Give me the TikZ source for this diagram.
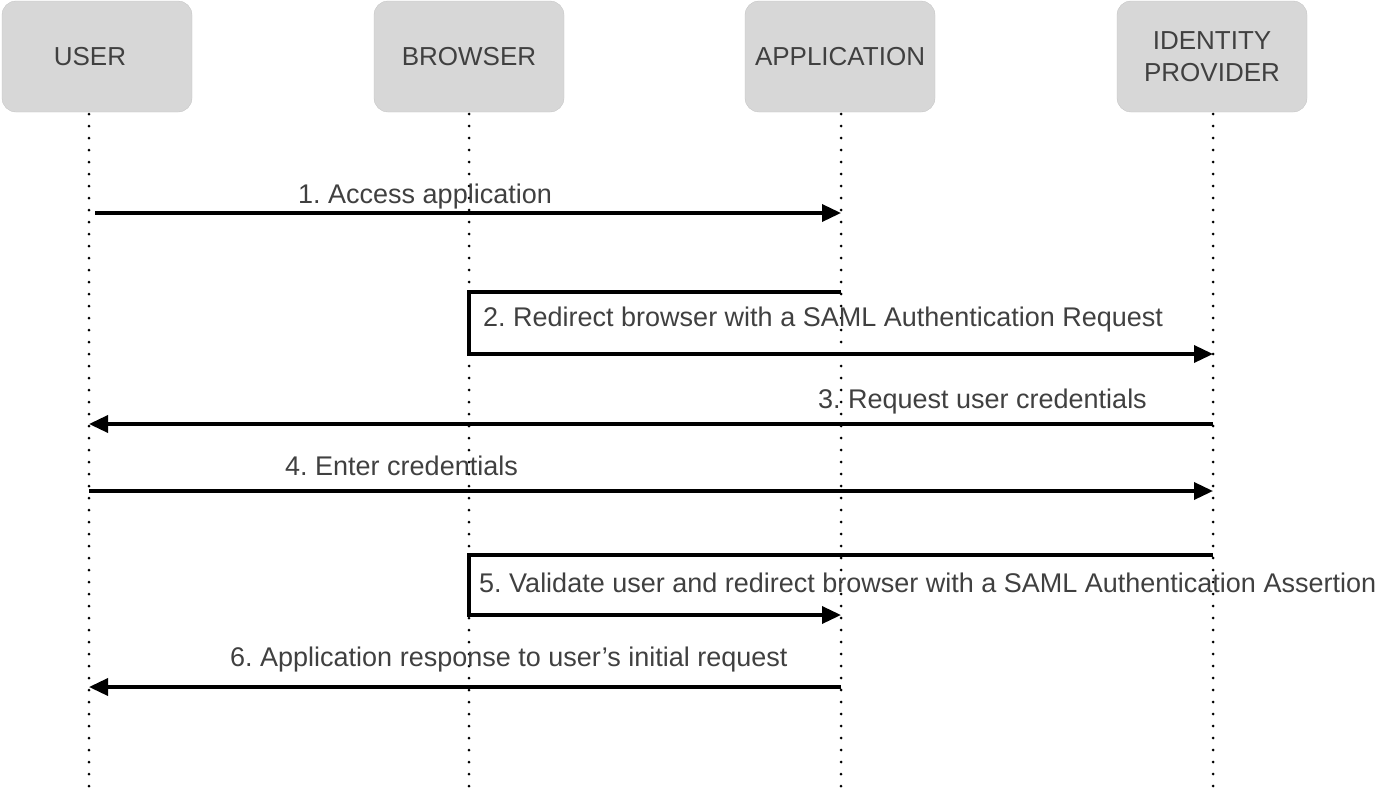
\documentclass[tikz,border=0pt]{standalone}
\usepackage{fontspec}
\setmainfont{Liberation Sans}
\usetikzlibrary{arrows.meta}
\definecolor{boxgray}{HTML}{D7D7D7}
\definecolor{txt}{HTML}{404040}
\frenchspacing
\begin{document}
\begin{tikzpicture}[x=1pt,y=-1pt,
  head/.style={fill=boxgray, draw=boxgray!90!black, line width=0.3pt, rounded corners=14pt,
    minimum height=111pt, minimum width=190pt, align=center, text=txt,
    font=\fontsize{26}{32}\selectfont},
  msg/.style={line width=3.5pt, line join=miter, -{Triangle[length=19pt,width=17pt]}},
  life/.style={line width=3pt, dash pattern=on 0pt off 12pt, line cap=round},
  lbl/.style={font=\fontsize{27}{32}\selectfont, text=txt, inner sep=0pt, anchor=base west}]
\useasboundingbox (0,0) rectangle (1400,798);
% headers
\node[head] (user) at (97,56.5) {\raisebox{-3pt}{USER}\hspace*{14pt}};
\node[head] (browser) at (469,56.5) {\raisebox{-3pt}{BROWSER}};
\node[head] (app) at (840,56.5) {\raisebox{-3pt}{APPLICATION}};
\node[head] (idp) at (1212,56.5) {IDENTITY\\PROVIDER};
% lifelines
\coordinate (uT) at (89,114);  \coordinate (uB) at (89,790);
\coordinate (bT) at (469,114); \coordinate (bB) at (469,790);
\coordinate (aT) at (841,114); \coordinate (aB) at (841,790);
\coordinate (iT) at (1213,114); \coordinate (iB) at (1213,790);
\draw[life] (uT) -- (uB);
\draw[life] (bT) -- (bB);
\draw[life] (aT) -- (aB);
\draw[life] (iT) -- (iB);
% message points
\coordinate (m1s) at (95,213);  \coordinate (m1e) at (841,213);
\coordinate (m2s) at (841,292); \coordinate (m2c) at (469,354); \coordinate (m2e) at (1213,354);
\coordinate (m3s) at (1213,424); \coordinate (m3e) at (89,424);
\coordinate (m4s) at (89,491);  \coordinate (m4e) at (1213,491);
\coordinate (m5s) at (1213,555); \coordinate (m5c) at (469,615); \coordinate (m5e) at (841,615);
\coordinate (m6s) at (841,687); \coordinate (m6e) at (89,687);
% messages
\draw[msg] (m1s) -- (m1e);
\draw[msg] (m2s) -| (m2c) -- (m2e);
\draw[msg] (m3s) -- (m3e);
\draw[msg] (m4s) -- (m4e);
\draw[msg] (m5s) -| (m5c) -- (m5e);
\draw[msg] (m6s) -- (m6e);
% labels
\node[lbl] (l1) at (298,203) {1. Access application};
\node[lbl] (l2) at (483,326) {2. Redirect browser with a SAML Authentication Request};
\node[lbl, anchor=base east] (l3) at (1147,408) {3. Request user credentials};
\node[lbl] (l4) at (285,475) {4. Enter credentials};
\node[lbl] (l5) at (479,592) {5. Validate user and redirect browser with a SAML Authentication Assertion};
\node[lbl] (l6) at (230,666) {6. Application response to user’s initial request};
\end{tikzpicture}
\end{document}
